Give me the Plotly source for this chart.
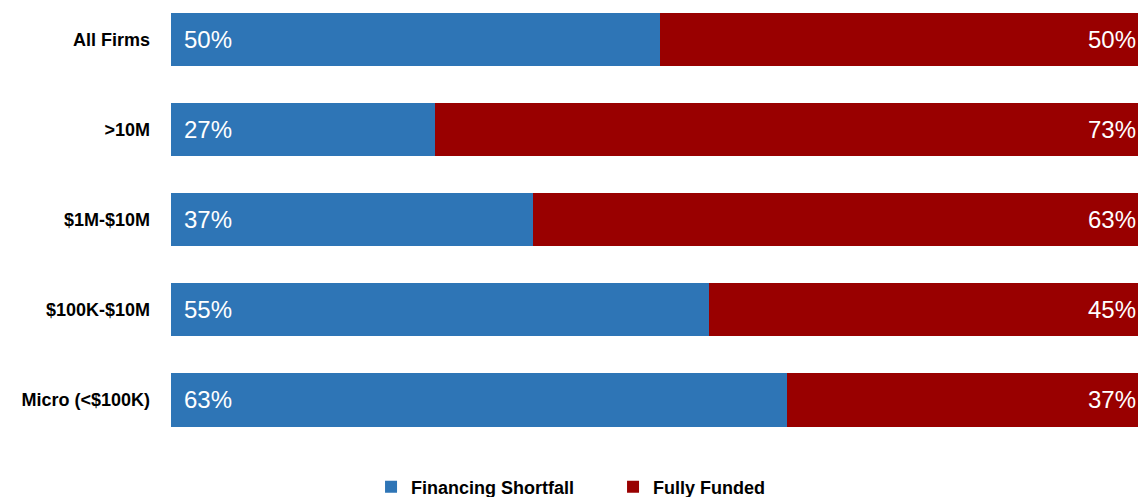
import plotly.graph_objects as go

# firm size groups, top to bottom
categories = ['All Firms', '>10M', '$1M-$10M', '$100K-$10M', 'Micro (<$100K)']
shortfall = [50, 27, 37, 55, 63]
funded = [50, 73, 63, 45, 37]

blue = '#2E75B6'
red = '#990000'
label_font = 'Liberation Sans, Arial, sans-serif'
num_font = 'Liberation Sans, Arial, sans-serif'

fig = go.Figure()
fig.add_trace(go.Bar(y=categories, x=shortfall, orientation='h', name='Financing Shortfall',
                     marker=dict(color=blue, line=dict(width=0))))
fig.add_trace(go.Bar(y=categories, x=funded, orientation='h', name='Fully Funded',
                     marker=dict(color=red, line=dict(width=0))))

annots = []
for cat, s, f in zip(categories, shortfall, funded):
    annots.append(dict(x=0, y=cat, xref='x', yref='y', text=f'{s}%', showarrow=False,
                       xanchor='left', xshift=11,
                       font=dict(color='white', size=24, family=num_font)))
    annots.append(dict(x=1, y=cat, xref='paper', yref='y', text=f'{f}%', showarrow=False,
                       xanchor='right', xshift=0,
                       font=dict(color='white', size=24, family=num_font)))

fig.update_layout(
    barmode='stack',
    bargap=0.41,
    width=1138, height=497,
    margin=dict(l=171, r=0, t=0, b=52, autoexpand=False),
    plot_bgcolor='white', paper_bgcolor='white',
    annotations=annots,
    showlegend=True,
    legend=dict(orientation='h', traceorder='normal',
                xref='container', x=0.5387, xanchor='center',
                yref='container', y=0.02, yanchor='middle',
                entrywidthmode='pixels', entrywidth=197,
                font=dict(family=label_font, size=18, color='black', weight='bold')),
)
fig.update_xaxes(range=[0, 98.9], visible=False)
fig.update_yaxes(categoryorder='array', categoryarray=categories, range=[4.5, -0.4377],
                 showline=False, showgrid=False, ticks='', ticklabelstandoff=20,
                 tickfont=dict(family=label_font, size=18, color='black', weight='bold'))

fig.write_html('out.html', config={'displayModeBar': False},
               post_script="document.body.style.margin='0px';")
